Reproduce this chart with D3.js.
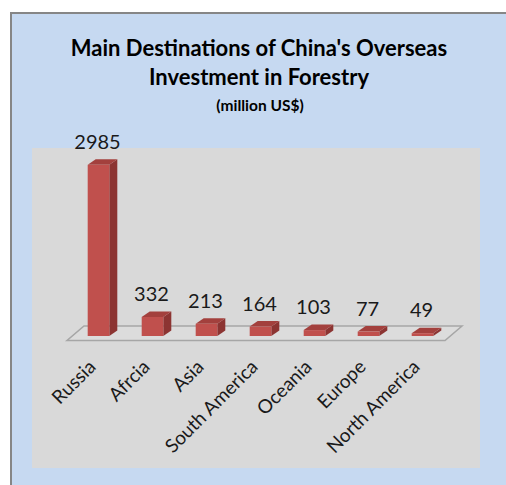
<!DOCTYPE html>
<html>
<head>
<meta charset="utf-8">
<script src="https://cdn.jsdelivr.net/npm/d3@7"></script>
<style>
  body { margin: 0; background: #ffffff; }
  svg { display: block; }
</style>
</head>
<body>
<svg id="chart" width="506" height="485"></svg>
<script>
// data
var categories = ["Russia", "Afrcia", "Asia", "South America", "Oceania", "Europe", "North America"];
var values = [2985, 332, 213, 164, 103, 77, 49];
var titleLines = ["Main Destinations of China's Overseas", "Investment in Forestry"];
var subtitle = "(million US$)";

var svg = d3.select("#chart");
var font = "Lato, 'Open Sans', sans-serif";

// outer frame
svg.append("rect")
    .attr("x", 11).attr("y", 13)
    .attr("width", 520).attr("height", 500)
    .attr("fill", "#c6d9f1")
    .attr("stroke", "#868686")
    .attr("stroke-width", 2);

// plot area
svg.append("rect")
    .attr("x", 32).attr("y", 148)
    .attr("width", 448).attr("height", 320)
    .attr("fill", "#d9d9d9");

// title
svg.selectAll("text.title")
    .data(titleLines)
    .enter().append("text")
    .attr("class", "title")
    .attr("x", 259)
    .attr("y", function(d, i) { return 56 + i * 29; })
    .attr("text-anchor", "middle")
    .style("font", "bold 22px " + font)
    .attr("fill", "#000")
    .text(function(d) { return d; });

svg.append("text")
    .attr("x", 260).attr("y", 111)
    .attr("text-anchor", "middle")
    .style("font", "bold 15.5px " + font)
    .attr("fill", "#000")
    .text(subtitle);

// ----------------- 3D geometry -----------------
var floorFront = 340.5;
var floorDepth = [17, -14.5];
var barDepth = [8, -5.5];
var shift = [(floorDepth[0] - barDepth[0]) / 2, (floorDepth[1] - barDepth[1]) / 2];

var x = d3.scaleBand()
    .domain(categories)
    .range([67, 445]);

var y = d3.scaleLinear()
    .domain([0, 3000])
    .range([floorFront + shift[1], floorFront + shift[1] - 172]);

var barW = x.bandwidth() * 0.4;

// floor
var fl = x.range()[0], fr = x.range()[1];
svg.append("path")
    .attr("d", "M" + fl + "," + floorFront +
        "L" + fr + "," + floorFront +
        "L" + (fr + floorDepth[0]) + "," + (floorFront + floorDepth[1]) +
        "L" + (fl + floorDepth[0]) + "," + (floorFront + floorDepth[1]) + "Z")
    .attr("fill", "#dcdcdc")
    .attr("stroke", "#a6a6a6")
    .attr("stroke-width", 1.5);

// bars
var bars = svg.selectAll("g.bar")
    .data(values)
    .enter().append("g")
    .attr("class", "bar")
    .attr("transform", function(d, i) {
        var cx = x(categories[i]) + x.bandwidth() / 2 + shift[0];
        return "translate(" + (cx - barW / 2) + ",0)";
    });

bars.append("path")   // side
    .attr("d", function(d) {
        var t = y(d), b = y(0);
        return "M" + barW + "," + b + "L" + (barW + barDepth[0]) + "," + (b + barDepth[1]) +
            "L" + (barW + barDepth[0]) + "," + (t + barDepth[1]) + "L" + barW + "," + t + "Z";
    })
    .attr("fill", "#8c3432");

bars.append("path")   // top
    .attr("d", function(d) {
        var t = y(d);
        return "M0," + t + "L" + barW + "," + t + "L" + (barW + barDepth[0]) + "," + (t + barDepth[1]) +
            "L" + barDepth[0] + "," + (t + barDepth[1]) + "Z";
    })
    .attr("fill", "#a3403d");

bars.append("rect")   // front
    .attr("x", 0)
    .attr("y", function(d) { return y(d); })
    .attr("width", barW)
    .attr("height", function(d) { return y(0) - y(d); })
    .attr("fill", "#c0504d");

// value labels
bars.append("text")
    .attr("x", barW / 2 - 1)
    .attr("y", function(d) { return y(d) - 16; })
    .attr("text-anchor", "middle")
    .style("font", "20px " + font)
    .attr("fill", "#1a1a1a")
    .text(function(d) { return d; });

// category labels
svg.selectAll("text.cat")
    .data(categories)
    .enter().append("text")
    .attr("class", "cat")
    .attr("transform", function(d) {
        return "translate(" + (x(d) + x.bandwidth() / 2 + 3) + ",368) rotate(-45)";
    })
    .attr("text-anchor", "end")
    .style("font", "19px " + font)
    .attr("fill", "#1a1a1a")
    .text(function(d) { return d; });
</script>
</body>
</html>
